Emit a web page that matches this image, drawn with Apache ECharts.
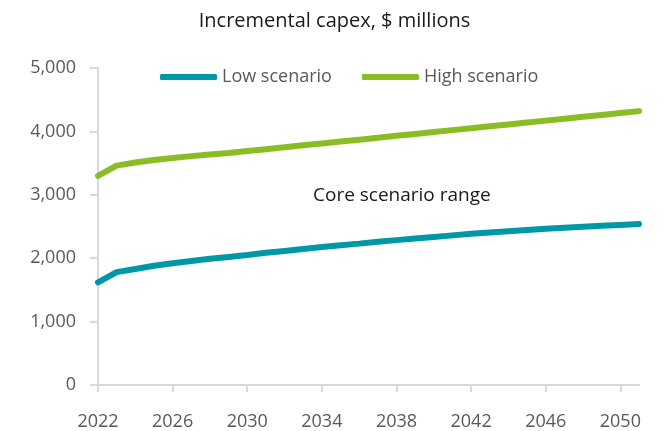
<!DOCTYPE html>
<html>
<head>
<meta charset="utf-8">
<script src="https://cdn.jsdelivr.net/npm/echarts@6/dist/echarts.min.js"></script>
<style>
  html, body { margin: 0; padding: 0; background: #fff; }
  #chart { width: 669px; height: 431px; }
</style>
</head>
<body>
<div id="chart"></div>
<script>
// data
const years = []
for (let y = 2022; y <= 2051; y++) years.push(String(y))

const lowScenario = [1620, 1780, 1830, 1880, 1920, 1955, 1990, 2020, 2050, 2085,
  2115, 2145, 2175, 2205, 2230, 2260, 2285, 2310, 2335, 2360,
  2385, 2405, 2425, 2445, 2465, 2480, 2495, 2510, 2525, 2540]

const highScenario = [3300, 3460, 3510, 3550, 3580, 3610, 3635, 3660, 3690, 3720,
  3750, 3780, 3810, 3840, 3870, 3900, 3930, 3960, 3990, 4020,
  4050, 4080, 4110, 4140, 4170, 4200, 4230, 4260, 4290, 4320]

const font = '"Open Sans", "Noto Sans", sans-serif'
const axisGrey = '#d9d9d9'
const labelGrey = '#595959'

const chart = echarts.init(document.getElementById('chart'))
chart.setOption({
  animation: false,
  color: ['#0097a7', '#8abd24'],
  title: {
    text: 'Incremental capex, $ millions',
    left: 'center',
    top: 6,
    textStyle: { fontFamily: font, fontSize: 20, fontWeight: 'normal', color: '#1a1a1a' }
  },
  legend: {
    data: ['Low scenario', 'High scenario'],
    left: 155,
    top: 63,
    itemWidth: 57,
    itemHeight: 6,
    itemGap: 30,
    icon: 'roundRect',
    textStyle: { fontFamily: font, fontSize: 18, color: labelGrey }
  },
  grid: { left: 98, right: 30, top: 68, bottom: 45 },
  xAxis: {
    type: 'category',
    data: years,
    boundaryGap: false,
    axisLine: { lineStyle: { color: axisGrey, width: 2 } },
    axisTick: {
      lineStyle: { color: axisGrey, width: 2 },
      length: 7,
      interval: (i) => i % 4 === 0
    },
    axisLabel: {
      fontFamily: font, fontSize: 18, color: labelGrey, margin: 28,
      interval: (i) => i % 4 === 0
    }
  },
  yAxis: {
    type: 'value',
    min: 0,
    max: 5000,
    interval: 1000,
    splitLine: { show: false },
    axisLine: { show: true, lineStyle: { color: axisGrey, width: 2 } },
    axisTick: { show: true, length: 8, lineStyle: { color: axisGrey, width: 2 } },
    axisLabel: {
      fontFamily: font, fontSize: 18, color: labelGrey, margin: 22,
      formatter: (v) => v.toLocaleString('en-US')
    }
  },
  graphic: [{
    type: 'text',
    left: 313,
    top: 186,
    style: { text: 'Core scenario range', font: '19px ' + font, fill: '#1a1a1a' }
  }],
  series: [
    {
      name: 'Low scenario',
      type: 'line',
      data: lowScenario,
      symbol: 'none',
      lineStyle: { width: 6, cap: 'round' }
    },
    {
      name: 'High scenario',
      type: 'line',
      data: highScenario,
      symbol: 'none',
      lineStyle: { width: 6, cap: 'round' }
    }
  ]
})
</script>
</body>
</html>
